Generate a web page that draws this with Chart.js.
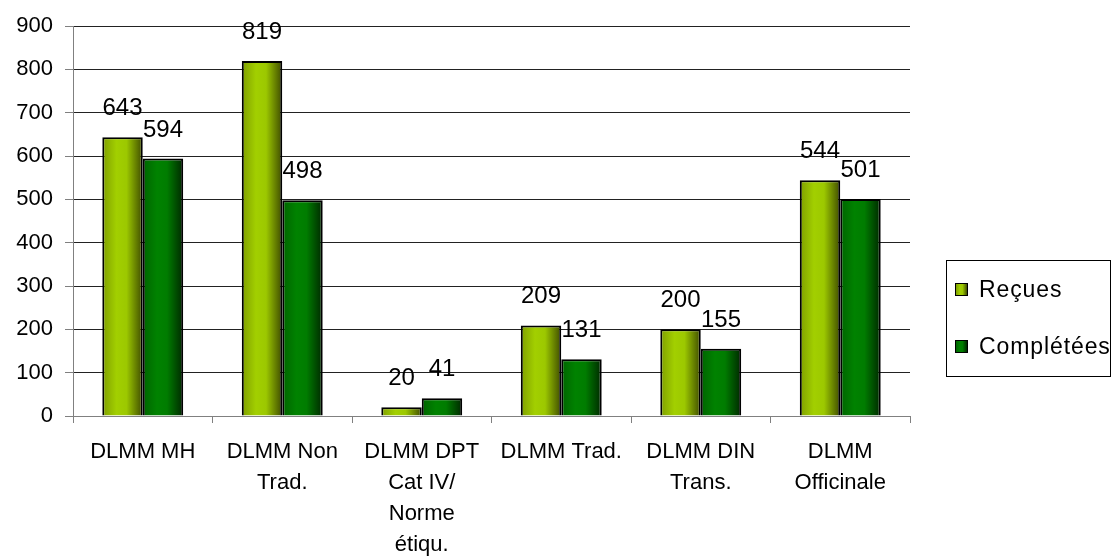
<!DOCTYPE html>
<html>
<head>
<meta charset="utf-8">
<script src="https://cdn.jsdelivr.net/npm/chart.js@4.4.1/dist/chart.umd.min.js"></script>
<style>
  html, body { margin:0; padding:0; background:#fff; }
  #wrap { position:relative; width:1115px; height:559px; overflow:hidden; }
  #legend { position:absolute; left:946px; top:260px; width:165px; height:117px; border:1px solid #000;
    box-sizing:border-box; font-family:"Liberation Sans", Arial, sans-serif; font-size:23px; line-height:26px;
    letter-spacing:0.9px; color:#000; }
  #legend .it { position:absolute; left:8px; display:flex; align-items:center; white-space:nowrap; }
  #legend .sw { width:11px; height:11px; border:1.5px solid #000; margin-right:11px; }
</style>
</head>
<body>
<div id="wrap">
  <canvas id="c" width="1115" height="559"></canvas>
  <div id="legend"></div>
</div>
<script>
const categories = [
  ['DLMM MH'],
  ['DLMM Non', 'Trad.'],
  ['DLMM DPT', 'Cat IV/', 'Norme', 'étiqu.'],
  ['DLMM Trad.'],
  ['DLMM DIN', 'Trans.'],
  ['DLMM', 'Officinale']
];
const recues = [643, 819, 20, 209, 200, 544];
const completees = [594, 498, 41, 131, 155, 501];
const yTicks = [0, 100, 200, 300, 400, 500, 600, 700, 800, 900];

const FONT = '"Liberation Sans", Arial, sans-serif';
const CAT_PCT = 0.58;

// gradient stops for the cylinder-like shading
const shades = [
  ['#7f9f00', '#a2cf00', '#9cc800', '#3f4c00'],
  ['#006400', '#008200', '#007c00', '#002800']
];

function barFill(ctx) {
  const chart = ctx.chart;
  const xs = chart.scales.x;
  if (!xs || xs.width == null || ctx.dataIndex == null) return shades[ctx.datasetIndex][1];
  const cw = xs.width / categories.length;
  const bw = cw * CAT_PCT / 2;
  const cx = xs.getPixelForValue(ctx.dataIndex);
  const left = cx - bw + ctx.datasetIndex * bw;
  const s = shades[ctx.datasetIndex];
  const g = chart.ctx.createLinearGradient(left, 0, left + bw, 0);
  g.addColorStop(0, s[0]);
  g.addColorStop(0.35, s[1]);
  g.addColorStop(0.6, s[2]);
  g.addColorStop(1, s[3]);
  return g;
}

// value labels above the bars
const valueLabels = {
  id: 'valueLabels',
  afterDatasetsDraw(chart) {
    const c = chart.ctx;
    c.save();
    c.font = '24px ' + FONT;
    c.fillStyle = '#000';
    c.textAlign = 'center';
    c.textBaseline = 'alphabetic';
    chart.data.datasets.forEach((ds, i) => {
      chart.getDatasetMeta(i).data.forEach((bar, j) => {
        c.fillText(String(ds.data[j]), bar.x, bar.y - 22);
      });
    });
    c.restore();
  }
};

new Chart(document.getElementById('c').getContext('2d'), {
  type: 'bar',
  data: {
    labels: categories,
    datasets: [
      { label: 'Reçues', data: recues, backgroundColor: barFill, borderColor: '#000', borderWidth: 2,
        categoryPercentage: CAT_PCT, barPercentage: 1 },
      { label: 'Complétées', data: completees, backgroundColor: barFill, borderColor: '#000', borderWidth: 2,
        categoryPercentage: CAT_PCT, barPercentage: 1 },
    ]
  },
  options: {
    responsive: false,
    animation: false,
    layout: { padding: { left: 0, right: 205, top: 26, bottom: 0 } },
    scales: {
      x: {
        grid: { display: true, drawOnChartArea: false, offset: true, color: '#808080', tickLength: 7 },
        border: { color: '#808080', width: 1 },
        ticks: { color: '#000', font: { family: FONT, size: 22, lineHeight: 1.42 }, padding: 13, maxRotation: 0, autoSkip: false },
        afterFit: s => { s.height = 143; }
      },
      y: {
        min: 0, max: 900,
        afterBuildTicks: s => { s.ticks = yTicks.map(v => ({ value: v })); },
        grid: { color: '#222', lineWidth: 1, tickLength: 8, tickColor: '#808080' },
        border: { color: '#808080', width: 1 },
        ticks: { color: '#000', font: { family: FONT, size: 22 }, padding: 12 },
        afterFit: s => { s.width = 73; }
      }
    },
    plugins: {
      legend: { display: false },
      tooltip: { enabled: false }
    }
  },
  plugins: [valueLabels]
});

// legend box
const legendEl = document.getElementById('legend');
[['Reçues', shades[0]], ['Complétées', shades[1]]].forEach(([name, s], i) => {
  const it = document.createElement('div');
  it.className = 'it';
  it.style.top = (i === 0 ? 15 : 72) + 'px';
  const sw = document.createElement('span');
  sw.className = 'sw';
  sw.style.background = `linear-gradient(to right, ${s[0]}, ${s[1]} 35%, ${s[2]} 60%, ${s[3]})`;
  const tx = document.createElement('span');
  tx.textContent = name;
  it.appendChild(sw); it.appendChild(tx);
  legendEl.appendChild(it);
});
</script>
</body>
</html>
